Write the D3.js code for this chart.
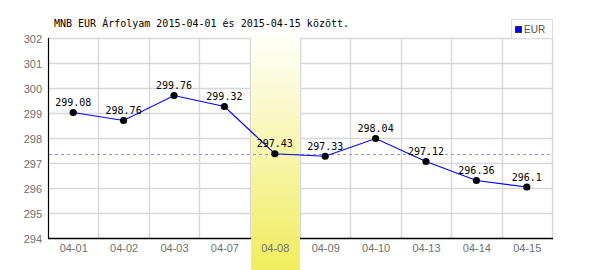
<!DOCTYPE html>
<html>
<head>
<meta charset="utf-8">
<script src="https://cdn.jsdelivr.net/npm/d3@7"></script>
<style>
  body { margin: 0; background: #fff; }
  svg { display: block; }
</style>
</head>
<body>
<div id="chart"></div>
<script>
let dates = ['04-01', '04-02', '04-03', '04-07', '04-08', '04-09', '04-10', '04-13', '04-14', '04-15'];
let rates = [299.08, 298.76, 299.76, 299.32, 297.43, 297.33, 298.04, 297.12, 296.36, 296.1];
let yTicks = [294, 295, 296, 297, 298, 299, 300, 301, 302];
let highlight = '04-08';
let title = 'MNB EUR Árfolyam 2015-04-01 és 2015-04-15 között.';
let seriesName = 'EUR';

let width = 600, height = 270;
let margin = { top: 38, right: 48, bottom: 32, left: 48 };

let svg = d3.select('#chart').append('svg')
            .attr('width', width)
            .attr('height', height);

let xScale = d3.scaleBand()
               .domain(dates)
               .range([margin.left, width - margin.right]);
let yScale = d3.scaleLinear()
               .domain([294, 302])
               .range([height - margin.bottom, margin.top]);

// gradient for the highlighted day
let grad = svg.append('defs').append('linearGradient')
              .attr('id', 'hl')
              .attr('x1', 0).attr('y1', 0).attr('x2', 0).attr('y2', 1);
grad.append('stop').attr('offset', '0%').attr('stop-color', '#ffffff');
grad.append('stop').attr('offset', '100%').attr('stop-color', '#f0ed5e');

// grid
svg.append('g')
   .selectAll('line')
   .data(yTicks.slice(1))
   .enter().append('line')
   .attr('x1', margin.left).attr('x2', width - margin.right)
   .attr('y1', d => Math.round(yScale(d)) + 0.5).attr('y2', d => Math.round(yScale(d)) + 0.5)
   .style('stroke', '#d8d8d8').style('stroke-width', 1.5);

svg.append('g')
   .selectAll('line')
   .data(dates.slice(1).concat(['end']))
   .enter().append('line')
   .attr('x1', d => Math.round(d === 'end' ? width - margin.right : xScale(d)) + 0.5)
   .attr('x2', d => Math.round(d === 'end' ? width - margin.right : xScale(d)) + 0.5)
   .attr('y1', margin.top).attr('y2', height - margin.bottom)
   .style('stroke', '#d8d8d8').style('stroke-width', 1.5);

// axes lines
svg.append('line')
   .attr('x1', margin.left + 0.5).attr('x2', margin.left + 0.5)
   .attr('y1', margin.top).attr('y2', height - margin.bottom + 1)
   .style('stroke', '#000').style('stroke-width', 1.2);
svg.append('line')
   .attr('x1', margin.left).attr('x2', width - margin.right + 1)
   .attr('y1', height - margin.bottom + 0.5).attr('y2', height - margin.bottom + 0.5)
   .style('stroke', '#000').style('stroke-width', 1.5);

// highlight band
svg.append('rect')
   .attr('x', xScale(highlight) + 1.5)
   .attr('y', 27)
   .attr('width', xScale.bandwidth() - 1.5)
   .attr('height', height - 27)
   .style('fill', 'url(#hl)');

// y tick labels
svg.append('g')
   .selectAll('text')
   .data(yTicks)
   .enter().append('text')
   .attr('x', 42)
   .attr('y', d => yScale(d) + 4.5)
   .attr('text-anchor', 'end')
   .style('font-family', 'Liberation Sans, Arial, sans-serif')
   .style('font-size', '11px')
   .style('fill', '#707070')
   .text(d => d);

// x tick labels
svg.append('g')
   .selectAll('text')
   .data(dates)
   .enter().append('text')
   .attr('x', d => xScale(d) + xScale.bandwidth() / 2 + 0.5)
   .attr('y', 252)
   .attr('text-anchor', 'middle')
   .style('font-family', 'Liberation Sans, Arial, sans-serif')
   .style('font-size', '11px')
   .style('fill', '#707070')
   .text(d => d);

// highlighted value line
let hy = Math.round(yScale(rates[dates.indexOf(highlight)]) + 1.5) + 0.5;
svg.append('line')
   .attr('x1', margin.left + 1).attr('x2', width - margin.right)
   .attr('y1', hy)
   .attr('y2', hy)
   .style('stroke', '#8f8fff').style('stroke-width', 1)
   .style('stroke-dasharray', '3,3');

// data
let cx = d => xScale(d) + xScale.bandwidth() / 2;
let g = svg.append('g').attr('transform', 'translate(0, 1.5)');

g.append('path')
 .datum(dates)
 .attr('d', d3.line().x(d => cx(d)).y((d, i) => yScale(rates[i])))
 .style('fill', 'none')
 .style('stroke', '#0000ff')
 .style('stroke-width', 1.1);

g.selectAll('circle')
 .data(dates)
 .enter().append('circle')
 .attr('cx', d => cx(d))
 .attr('cy', (d, i) => yScale(rates[i]))
 .attr('r', 3.6)
 .style('fill', '#000');

g.selectAll('.val')
 .data(dates)
 .enter().append('text')
 .attr('class', 'val')
 .attr('x', d => cx(d))
 .attr('y', (d, i) => yScale(rates[i]) - 6.5)
 .attr('text-anchor', 'middle')
 .style('font-family', 'DejaVu Sans Mono, monospace')
 .style('font-size', '10px')
 .style('fill', '#000')
 .text((d, i) => rates[i]);

// title
svg.append('text')
   .attr('x', 54)
   .attr('y', 27)
   .style('font-family', 'DejaVu Sans Mono, monospace')
   .style('font-size', '10px')
   .style('fill', '#000')
   .text(title);

// legend
let lg = svg.append('g');
lg.append('rect')
  .attr('x', 511.5).attr('y', 19.5)
  .attr('width', 41).attr('height', 19)
  .style('fill', '#fff').style('stroke', '#dcdcdc');
lg.append('rect')
  .attr('x', 515.5).attr('y', 26.5)
  .attr('width', 6).attr('height', 6)
  .style('fill', '#0000ff').style('stroke', '#333');
lg.append('text')
  .attr('x', 524).attr('y', 33)
  .style('font-family', 'Liberation Sans, Arial, sans-serif')
  .style('font-size', '10px')
  .style('fill', '#555')
  .text(seriesName);
</script>
</body>
</html>
